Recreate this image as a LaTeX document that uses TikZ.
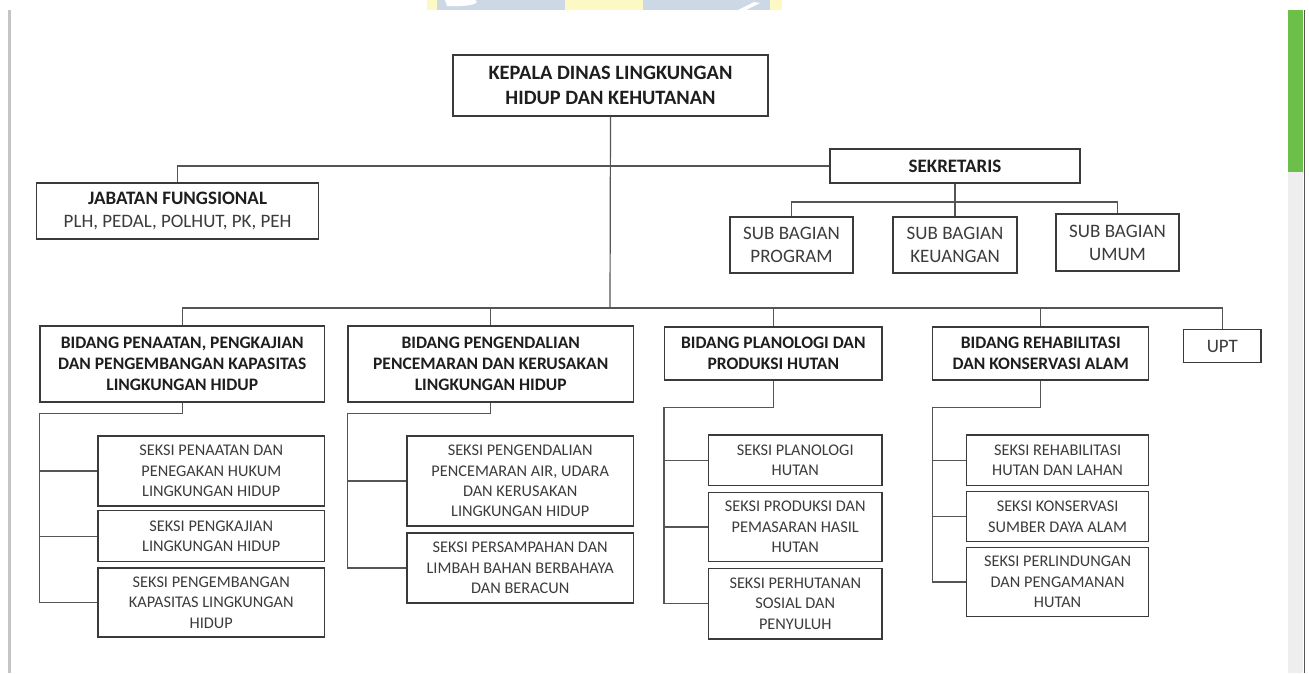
\documentclass[tikz,border=0pt]{standalone}
\usepackage{fontspec}
\setmainfont{Carlito}
\usetikzlibrary{calc}
\definecolor{bordercol}{HTML}{3A3A3A}
\definecolor{linecol}{HTML}{555555}
\definecolor{txtreg}{HTML}{3C3C3C}
\definecolor{txtbold}{HTML}{1E1E1E}
\definecolor{wmyellow}{HTML}{FDF9C4}
\definecolor{wmblue}{HTML}{CDD8E6}
\definecolor{sbgreen}{HTML}{6CC04A}
\definecolor{sbgray}{HTML}{EEEEEE}
\definecolor{edgegray}{HTML}{C4C4C4}
\definecolor{sbedge}{HTML}{555555}
\begin{document}
\begin{tikzpicture}[x=1pt,y=-1pt,
 box/.style={draw=bordercol, line width=1.3pt, inner sep=0pt, align=center, fill=white},
 conn/.style={draw=linecol, line width=1.2pt},
 topfont/.style={font=\fontsize{20.4}{25}\selectfont\bfseries, text=txtbold},
 midbold/.style={font=\fontsize{19}{23}\selectfont\bfseries, text=txtbold},
 midreg/.style={font=\fontsize{19}{23}\selectfont, text=txtreg},
 bidfont/.style={font=\fontsize{17.5}{21}\selectfont\bfseries, text=txtbold},
 seksifont/.style={font=\fontsize{16.3}{20.3}\selectfont, text=txtreg},
]
\useasboundingbox (0,0) rectangle (1309,673);
% page decorations
\fill[wmyellow] (427,0) rectangle (782,10);
\fill[wmblue] (437,0) rectangle (565,10);
\fill[white] (445,0) -- (475,0) .. controls (481,3) and (472,7) .. (447,6) -- cycle;
\fill[wmblue] (643,0) rectangle (770,10);
\fill[white] (738,10) -- (746,10) -- (760,3) -- (754,2) -- cycle;
\fill[edgegray] (7.5,10) rectangle (11,673);
\fill[sbgray] (1288,172) rectangle (1303,673);
\fill[sbgreen] (1288,10) rectangle (1303,172);
\draw[sbedge, line width=1pt] (1304,10) -- (1304,673);

% top level
\node[box, topfont, minimum width=315pt, minimum height=61pt] (kepala) at (610.5,85.5) {KEPALA DINAS LINGKUNGAN\\HIDUP DAN KEHUTANAN};
\node[box, midreg, minimum width=282pt, minimum height=56pt] (jab) at (177.6,211) {{\bfseries\color{txtbold}JABATAN FUNGSIONAL}\\PLH, PEDAL, POLHUT, PK, PEH};
\node[box, midbold, minimum width=250pt, minimum height=34pt] (sek) at (955,166) {SEKRETARIS};
\node[box, midreg, minimum width=123pt, minimum height=56pt] (sbp) at (791.5,245) {SUB BAGIAN\\PROGRAM};
\node[box, midreg, minimum width=124pt, minimum height=56pt] (sbk) at (955,245) {SUB BAGIAN\\KEUANGAN};
\node[box, midreg, minimum width=123pt, minimum height=57pt] (sbu) at (1117.5,242.5) {SUB BAGIAN\\UMUM};

% bidang
\node[box, bidfont, minimum width=284.5pt, minimum height=76pt] (b1) at (182.25,364) {BIDANG PENAATAN, PENGKAJIAN\\DAN PENGEMBANGAN KAPASITAS\\LINGKUNGAN HIDUP};
\node[box, bidfont, minimum width=285.4pt, minimum height=76pt] (b2) at (490.7,364) {BIDANG PENGENDALIAN\\PENCEMARAN DAN KERUSAKAN\\LINGKUNGAN HIDUP};
\node[box, bidfont, minimum width=217.3pt, minimum height=53pt] (b3) at (773.35,353.5) {BIDANG PLANOLOGI DAN\\PRODUKSI HUTAN};
\node[box, bidfont, minimum width=216pt, minimum height=53pt] (b4) at (1040.75,353.5) {BIDANG REHABILITASI\\DAN KONSERVASI ALAM};
\node[box, midreg, minimum width=77.3pt, minimum height=33.4pt] (upt) at (1222.35,346) {UPT};

% seksi
\node[box, seksifont, minimum width=226.5pt, minimum height=70pt] (s11) at (211.25,471) {SEKSI PENAATAN DAN\\PENEGAKAN HUKUM\\LINGKUNGAN HIDUP};
\node[box, seksifont, minimum width=226.5pt, minimum height=51pt] (s12) at (211.25,536.2) {SEKSI PENGKAJIAN\\LINGKUNGAN HIDUP};
\node[box, seksifont, minimum width=226.5pt, minimum height=69pt] (s13) at (211.25,602.5) {SEKSI PENGEMBANGAN\\KAPASITAS LINGKUNGAN\\HIDUP};

\node[box, seksifont, minimum width=226.4pt, minimum height=90pt] (s21) at (520.2,481) {SEKSI PENGENDALIAN\\PENCEMARAN AIR, UDARA\\DAN KERUSAKAN\\LINGKUNGAN HIDUP};
\node[box, seksifont, minimum width=226.4pt, minimum height=70pt] (s22) at (520.2,568) {SEKSI PERSAMPAHAN DAN\\LIMBAH BAHAN BERBAHAYA\\DAN BERACUN};

\node[box, seksifont, minimum width=173.5pt, minimum height=50.7pt] (s31) at (795.25,460.35) {SEKSI PLANOLOGI\\HUTAN};
\node[box, seksifont, minimum width=173.5pt, minimum height=69.4pt] (s32) at (795.25,527) {SEKSI PRODUKSI DAN\\PEMASARAN HASIL\\HUTAN};
\node[box, seksifont, minimum width=173.5pt, minimum height=70.7pt] (s33) at (795.25,603.65) {SEKSI PERHUTANAN\\SOSIAL DAN\\PENYULUH};

\node[box, seksifont, minimum width=182.2pt, minimum height=50.7pt] (s41) at (1057.6,460.35) {SEKSI REHABILITASI\\HUTAN DAN LAHAN};
\node[box, seksifont, minimum width=182.2pt, minimum height=50pt] (s42) at (1057.6,516.7) {SEKSI KONSERVASI\\SUMBER DAYA ALAM};
\node[box, seksifont, minimum width=182.2pt, minimum height=69.4pt] (s43) at (1057.6,582) {SEKSI PERLINDUNGAN\\DAN PENGAMANAN\\HUTAN};

% connectors: top
\coordinate (busY) at (610,308);
\coordinate (sbus) at (955,202);
\draw[conn] (kepala.south) -- (busY);
\draw[conn] (jab.north) -- (jab.north |- sek.west) -- (sek.west);
\draw[conn] (sek.south) -- (sbk.north);
\draw[conn] (sbp.north) -- (sbp.north |- sbus) -| (sbu.north);
\draw[conn] (b1.north) -- (b1.north |- busY) -| (upt.north);
\draw[conn] (b2.north) -- (b2.north |- busY);
\draw[conn] (b3.north) -- (b3.north |- busY);
\draw[conn] (b4.north) -- (b4.north |- busY);

% connectors: seksi
\draw[conn] (b1.south) -- ++(0,11) -| (b1.west |- s13.west) -- (s13.west);
\draw[conn] (b1.west |- s11.west) -- (s11.west);
\draw[conn] (b1.west |- s12.west) -- (s12.west);

\draw[conn] (b2.south) -- ++(0,11) -| (b2.west |- s22.west) -- (s22.west);
\draw[conn] (b2.west |- s21.west) -- (s21.west);

\draw[conn] (b3.south) -- ++(0,27) -| (b3.west |- s33.west) -- (s33.west);
\draw[conn] (b3.west |- s31.west) -- (s31.west);
\draw[conn] (b3.west |- s32.west) -- (s32.west);

\draw[conn] (b4.south) -- ++(0,27) -| (b4.west |- s43.west) -- (s43.west);
\draw[conn] (b4.west |- s41.west) -- (s41.west);
\draw[conn] (b4.west |- s42.west) -- (s42.west);
\end{tikzpicture}
\end{document}
